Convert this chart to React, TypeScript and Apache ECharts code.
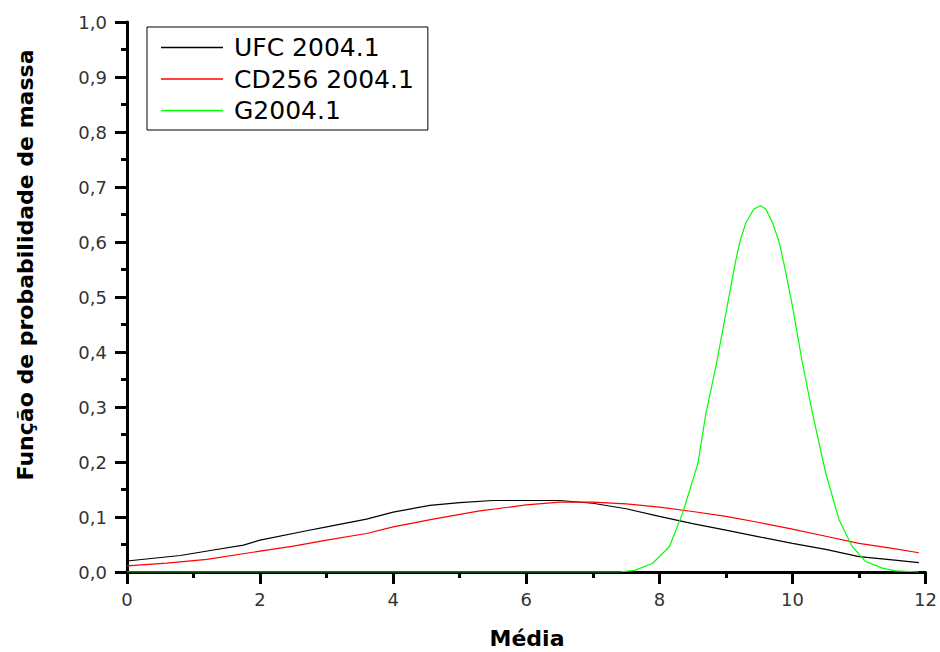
import React, { useEffect, useRef } from "react";
import * as echarts from "echarts";

const ufcX = [0, 0.4, 0.8, 1.3, 1.75, 2, 2.7, 3, 3.6, 4, 4.55, 5, 5.5, 6, 6.5, 7, 7.5, 8, 8.5, 9, 9.5, 10, 10.5, 11, 11.5, 11.9];
const ufcY = [0.020, 0.025, 0.030, 0.040, 0.049, 0.058, 0.075, 0.082, 0.096, 0.109, 0.121, 0.126, 0.130, 0.130, 0.130, 0.125, 0.115, 0.101, 0.088, 0.076, 0.064, 0.052, 0.041, 0.028, 0.022, 0.017];

const cdX = [0, 0.6, 1.2, 2, 2.5, 3, 3.6, 4, 4.6, 5.3, 6, 6.5, 7, 7.5, 8, 8.5, 9, 9.5, 10, 10.5, 11, 11.5, 11.9];
const cdY = [0.011, 0.016, 0.023, 0.038, 0.047, 0.058, 0.070, 0.082, 0.096, 0.111, 0.122, 0.127, 0.127, 0.124, 0.118, 0.110, 0.101, 0.090, 0.078, 0.065, 0.052, 0.043, 0.035];

const gX = [0, 7.4, 7.63, 7.9, 8.15, 8.35, 8.58, 8.7, 8.85, 9.0, 9.15, 9.22, 9.3, 9.42, 9.52, 9.6, 9.7, 9.8, 9.88, 10.0, 10.15, 10.3, 10.5, 10.7, 10.9, 11.1, 11.35, 11.55, 11.9];
const gY = [0, 0, 0.003, 0.016, 0.046, 0.107, 0.198, 0.289, 0.374, 0.471, 0.568, 0.605, 0.635, 0.660, 0.666, 0.660, 0.635, 0.600, 0.556, 0.483, 0.380, 0.289, 0.180, 0.095, 0.046, 0.019, 0.007, 0.002, 0];

const seriesNames = ["UFC 2004.1", "CD256 2004.1", "G2004.1"];
const seriesColors = ["#000000", "#ff0000", "#00ff00"];
const xTitle = "Média";
const yTitle = "Função de probabilidade de massa";

const zip = (xs: number[], ys: number[]) => xs.map((x, i) => [x, ys[i]]);

export default function App() {
  const ref = useRef<HTMLDivElement>(null);
  useEffect(() => {
    if (!ref.current) return;
    const chart = echarts.init(ref.current, null, { renderer: "svg" });
    const font = "'DejaVu Sans', 'Liberation Sans', sans-serif";
    const datasets = [zip(ufcX, ufcY), zip(cdX, cdY), zip(gX, gY)];
    chart.setOption({
      animation: false,
      backgroundColor: "#ffffff",
      grid: { left: 127, right: 14, top: 22, bottom: 80, containLabel: false },
      legend: {
        orient: "vertical",
        left: 147,
        top: 27,
        backgroundColor: "#ffffff",
        borderColor: "#000000",
        borderWidth: 1,
        borderRadius: 0,
        padding: [8, 14, 7, 14],
        itemGap: 6.5,
        itemWidth: 62,
        itemHeight: 1.3,
        icon: "rect",
        data: seriesNames.map((n, i) => ({
          name: n,
          itemStyle: { color: seriesColors[i] },
        })),
        textStyle: { fontFamily: font, fontSize: 25, color: "#000", padding: [0, 0, 0, 6] },
      },
      xAxis: {
        type: "value",
        min: 0,
        max: 12,
        interval: 2,
        splitLine: { show: false },
        axisLine: { show: true, onZero: false, lineStyle: { color: "#000", width: 3 } },
        axisTick: { show: true, length: 12, lineStyle: { color: "#000", width: 3 } },
        minorTick: { show: true, splitNumber: 2, length: 6, lineStyle: { color: "#000", width: 3 } },
        axisLabel: { margin: 18, fontFamily: font, fontSize: 18, color: "#333" },
      },
      yAxis: {
        type: "value",
        min: 0,
        max: 1,
        interval: 0.1,
        splitLine: { show: false },
        axisLine: { show: true, onZero: false, lineStyle: { color: "#000", width: 3 } },
        axisTick: { show: true, length: 12, lineStyle: { color: "#000", width: 3 } },
        minorTick: { show: true, splitNumber: 2, length: 6, lineStyle: { color: "#000", width: 3 } },
        axisLabel: {
          margin: 20,
          fontFamily: font,
          fontSize: 18,
          color: "#333",
          formatter: (v: number) => v.toFixed(1).replace(".", ","),
        },
      },
      series: datasets.map((d, i) => ({
        name: seriesNames[i],
        type: "line",
        data: d,
        symbol: "none",
        showSymbol: false,
        smooth: false,
        lineStyle: { color: seriesColors[i], width: 1.2 },
        itemStyle: { color: seriesColors[i] },
        z: 3,
      })),
      graphic: [
        {
          type: "text",
          x: 25,
          y: 265,
          rotation: Math.PI / 2,
          style: {
            text: yTitle,
            fontFamily: font,
            fontSize: 22,
            fontWeight: "bold",
            fill: "#000",
            textAlign: "center",
            textVerticalAlign: "middle",
          },
        },
        {
          type: "text",
          x: 527,
          y: 638,
          style: {
            text: xTitle,
            fontFamily: font,
            fontSize: 22,
            fontWeight: "bold",
            fill: "#000",
            textAlign: "center",
            textVerticalAlign: "middle",
          },
        },
      ],
    });
    return () => chart.dispose();
  }, []);
  return (
    <div
      ref={ref}
      style={{ position: "fixed", left: 0, top: 0, width: 940, height: 652 }}
    />
  );
}
